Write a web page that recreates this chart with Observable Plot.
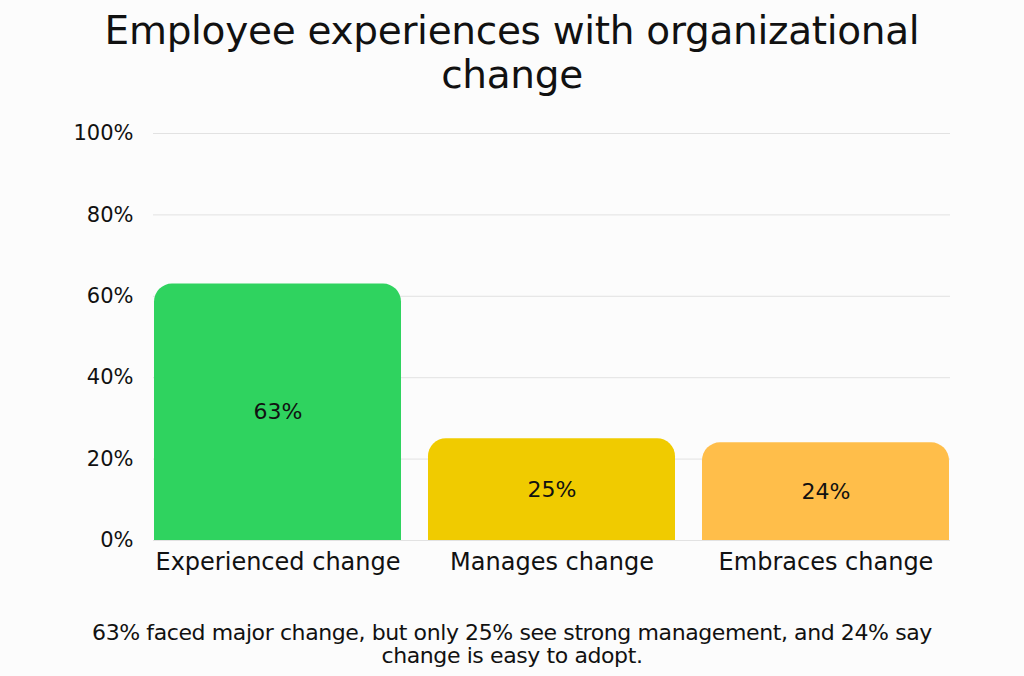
<!DOCTYPE html>
<html>
<head>
<meta charset="utf-8">
<script src="https://cdn.jsdelivr.net/npm/d3@7"></script>
<script src="https://cdn.jsdelivr.net/npm/@observablehq/plot@0.6"></script>
<style>
  html, body { margin: 0; padding: 0; background: #fcfcfc; }
  body { width: 1024px; height: 676px; overflow: hidden; font-family: "DejaVu Sans", sans-serif; color: #111; }
  #title { text-align: center; font-size: 39px; line-height: 44px; padding-top: 9px; height: 86px; letter-spacing: -0.3px; }
  #chart { height: 495px; }
  #caption { text-align: center; font-size: 22px; line-height: 23px; margin-top: 31px; letter-spacing: -0.4px; }
</style>
</head>
<body>
<div id="title">Employee experiences with organizational<br>change</div>
<div id="chart"></div>
<div id="caption">63% faced major change, but only 25% see strong management, and 24% say<br>change is easy to adopt.</div>
<script>
const categories = ["Experienced change", "Manages change", "Embraces change"];
const values = [63, 25, 24];
const yTicks = [0, 20, 40, 60, 80, 100];
const palette = ["#2fd35f", "#f0cb00", "#ffbe4a"];

const data = categories.map((c, i) => ({category: c, value: values[i]}));

const chart = Plot.plot({
  width: 1024,
  height: 495,
  marginLeft: 153,
  marginRight: 74,
  marginTop: 38,
  marginBottom: 50,
  style: {background: "transparent", fontFamily: "DejaVu Sans, sans-serif", color: "#111"},
  x: {domain: categories, paddingInner: 0.1, paddingOuter: 0, label: null},
  y: {domain: [0, 100], label: null},
  color: {domain: categories, range: palette},
  marks: [
    Plot.gridY(yTicks, {stroke: "#e2e2e2", strokeOpacity: 1}),
    Plot.ruleY([0], {stroke: "#e2e2e2", strokeOpacity: 1}),
    Plot.barY(data, {x: "category", y: "value", fill: "category", ry1: 18}),
    Plot.text(data, {x: "category", y: d => d.value / 2, text: d => d.value + "%", fontSize: 22, fill: "#111"}),
    Plot.axisY(yTicks, {tickFormat: d => d + "%", tickSize: 0, tickPadding: 20, fontSize: 21, fill: "#111"}),
    Plot.axisX({tickSize: 0, tickPadding: 12, fontSize: 24, fill: "#111"})
  ]
});
document.getElementById("chart").appendChild(chart);
</script>
</body>
</html>
